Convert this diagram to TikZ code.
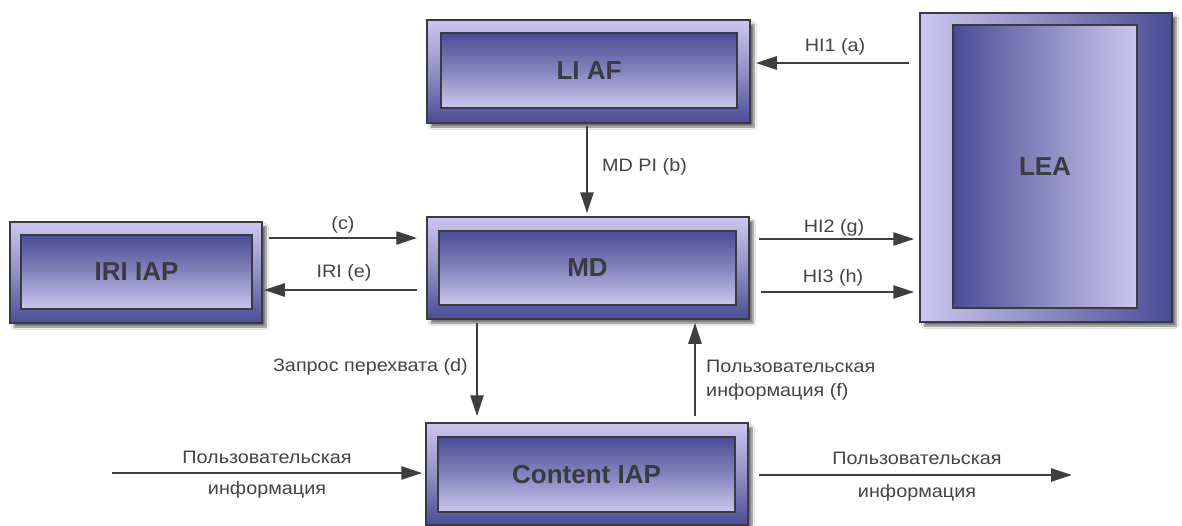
\documentclass[tikz,border=0pt]{standalone}
\usepackage{fontspec}
\setmainfont{Liberation Sans}
\newfontfamily\lblfont[FakeStretch=1.1]{Liberation Sans}
\usetikzlibrary{arrows.meta,shadows.blur}
\definecolor{dk}{HTML}{4A4D95}
\definecolor{lt}{HTML}{CCC7EE}
\definecolor{ed}{HTML}{3A3A42}
\definecolor{tx}{HTML}{444444}
\definecolor{ln}{HTML}{3E3E3E}
\tikzset{
  outerbox/.style={draw=ed, line width=1.5pt, top color=lt, bottom color=dk, middle color=lt!55!dk,
    blur shadow={shadow xshift=4pt, shadow yshift=-4pt, shadow blur steps=6, shadow opacity=55}},
  innerbox/.style={draw=ed, line width=2pt, top color=dk, bottom color=lt, middle color=dk!55!lt,
    text=ed, font=\fontsize{26}{30}\selectfont\bfseries},
  outerv/.style={draw=ed, line width=1.5pt, left color=lt, right color=dk, middle color=lt!50!dk,
    blur shadow={shadow xshift=4pt, shadow yshift=-4pt, shadow blur steps=6, shadow opacity=55}},
  innerv/.style={draw=ed, line width=2pt, left color=dk, right color=lt, middle color=dk!50!lt,
    text=ed, font=\fontsize{26}{30}\selectfont\bfseries},
  lbl/.style={text=tx, font=\lblfont\fontsize{18}{24}\selectfont, inner sep=0pt},
  arr/.style={draw=ln, line width=2.5pt, -{Triangle[length=21pt,width=13pt]}}
}
\begin{document}
\begin{tikzpicture}[x=1pt,y=-1pt]
\useasboundingbox[fill=white] (0,0) rectangle (1182,525);
% boxes
\node[outerbox, minimum width=323pt, minimum height=103pt] (liaf) at (588.5,71.5) {};
\node[innerbox, minimum width=296pt, minimum height=75pt] (liafin) at (589,70.5) {LI AF};
\node[outerbox, minimum width=322pt, minimum height=102pt] (md) at (588,268) {};
\node[innerbox, minimum width=297pt, minimum height=74pt] (mdin) at (587.5,268) {MD};
\node[outerbox, minimum width=252pt, minimum height=101pt] (iri) at (136,272.5) {};
\node[innerbox, minimum width=231pt, minimum height=74pt] (iriin) at (136.5,272) {IRI IAP};
\node[outerbox, minimum width=322pt, minimum height=102pt] (ct) at (587,474) {};
\node[innerbox, minimum width=297pt, minimum height=75pt] (ctin) at (586.5,474.5) {Content IAP};
\node[outerv, minimum width=252pt, minimum height=309pt] (lea) at (1046,167.5) {};
\node[innerv, minimum width=184pt, minimum height=283pt] (leain) at (1045,166.5) {LEA};
% free ends
\coordinate (src) at (112,473);
\coordinate (dst) at (1072,475);
% arrows
\draw[arr] ([xshift=-10pt,yshift=104.5pt]lea.west) -- ([xshift=5pt,yshift=8.5pt]liaf.east);
\draw[arr] ([xshift=-1.5pt,yshift=-2pt]liaf.south) -- ([xshift=-1pt,yshift=3pt]md.north);
\draw[arr] ([xshift=6pt,yshift=34.5pt]iri.east) -- ([xshift=-9pt,yshift=30pt]md.west);
\draw[arr] ([xshift=-9pt,yshift=-22pt]md.west) -- ([xshift=1pt,yshift=-17.5pt]iri.east);
\draw[arr] ([xshift=9pt,yshift=29pt]md.east) -- ([xshift=-5pt,yshift=-71.5pt]lea.west);
\draw[arr] ([xshift=11pt,yshift=-24pt]md.east) -- ([xshift=-5pt,yshift=-124.5pt]lea.west);
\draw[arr] ([xshift=-111pt,yshift=-3pt]md.south) -- ([xshift=-110pt,yshift=6pt]ct.north);
\draw[arr] ([xshift=108pt,yshift=6pt]ct.north) -- ([xshift=107pt,yshift=-3pt]md.south);
\draw[arr] (src) -- ([xshift=-3pt,yshift=1pt]ct.west);
\draw[arr] ([xshift=10pt,yshift=-1pt]ct.east) -- (dst);
% labels
\node[lbl] (la) at (835,47) {HI1 (a)};
\node[lbl, anchor=west] (lb) at (602,167) {MD PI (b)};
\node[lbl] (lc) at (343,225) {(c)};
\node[lbl] (le) at (344,273) {IRI (e)};
\node[lbl] (lg) at (834,228) {HI2 (g)};
\node[lbl] (lh) at (833,278) {HI3 (h)};
\node[lbl, anchor=east] (ld) at (468,367) {Запрос перехвата (d)};
\node[lbl, anchor=west, align=left] (lf) at (706,380) {Пользовательская\\информация (f)};
\node[lbl] (lin1) at (267,457) {Пользовательская};
\node[lbl] (lin2) at (267,490) {информация};
\node[lbl] (lout1) at (917,458) {Пользовательская};
\node[lbl] (lout2) at (917,493) {информация};
\end{tikzpicture}
\end{document}
